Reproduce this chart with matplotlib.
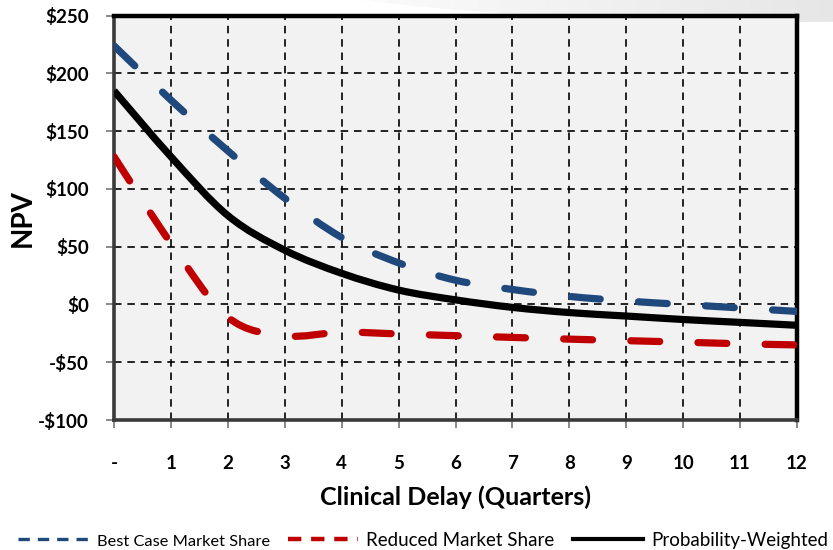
import numpy as np
import matplotlib
matplotlib.use("Agg")
import matplotlib.pyplot as plt
from matplotlib.path import Path
from matplotlib.patches import PathPatch, Ellipse
from matplotlib.lines import Line2D

# Quarterly clinical delay and NPV ($M) under three scenarios
delay = [0, 1, 2, 3, 4, 5, 6, 7, 8, 9, 10, 11, 12]
best_case = [224, 177, 133, 92, 58, 36, 21, 13, 7, 3, 0, -3, -6]
reduced = [128, 53, -11, -27, -24, -25.5, -27, -28.5, -30, -31.3, -32.6, -34, -35]
weighted = [185, 128, 77, 47, 27, 12.5, 4, -2.5, -7, -10, -13, -15.5, -18]

x_ticklabels = ["-"] + [str(v) for v in delay[1:]]
y_ticks = [-100, -50, 0, 50, 100, 150, 200, 250]
y_ticklabels = [f"-${-v}" if v < 0 else f"${v}" for v in y_ticks]

series_names = ["Best Case Market Share", "Reduced Market Share", "Probability-Weighted"]
BLUE = "#1F497D"
RED = "#C00000"
BLACK = "#000000"

FONT = "Lato"


def smooth_path(xs, ys):
    """Bezier path through the points with Catmull-Rom style tangents."""
    pts = np.column_stack([xs, ys]).astype(float)
    n = len(pts)
    verts = [pts[0]]
    codes = [Path.MOVETO]
    for i in range(n - 1):
        p_prev = pts[i - 1] if i > 0 else pts[i]
        p0 = pts[i]
        p1 = pts[i + 1]
        p_next = pts[i + 2] if i + 2 < n else pts[i + 1]
        c1 = p0 + (p1 - p_prev) / 6.0
        c2 = p1 - (p_next - p0) / 6.0
        verts += [c1, c2, p1]
        codes += [Path.CURVE4] * 3
    return Path(verts, codes)


fig = plt.figure(figsize=(8.33, 5.5), dpi=100)

# soft grey swoosh in the top-right corner of the page
bg = fig.add_axes([0, 0, 1, 1], zorder=-5)
bg.axis("off")
grad = np.tile(np.linspace(1.0, 0.90, 256), (16, 1))
im = bg.imshow(grad, cmap="gray", vmin=0, vmax=1, extent=[250, 833, 60, -5],
               aspect="auto", interpolation="bilinear")
bg.set_xlim(0, 833)
bg.set_ylim(550, 0)
swoosh = Ellipse((790, -40), 1120, 124, transform=bg.transData, facecolor="none", edgecolor="none")
bg.add_patch(swoosh)
im.set_clip_path(swoosh)

ax = fig.add_axes([114 / 833, 1 - 420 / 550, (797 - 114) / 833, (420 - 15.7) / 550])
ax.set_facecolor("#F2F2F2")
ax.set_xlim(0, 12)
ax.set_ylim(-100, 250)

ax.set_xticks(delay)
ax.set_xticklabels(x_ticklabels)
ax.set_yticks(y_ticks)
ax.set_yticklabels(y_ticklabels)

for lbl in ax.get_xticklabels() + ax.get_yticklabels():
    lbl.set_fontfamily(FONT)
    lbl.set_fontweight("bold")
    lbl.set_fontsize(13.5)

ax.tick_params(axis="x", direction="out", length=6, width=1.3, color="#808080", pad=19)
ax.tick_params(axis="y", direction="out", length=6, width=1.3, color="#808080", pad=12)

ax.grid(True, color="black", linewidth=1.2, linestyle=(0, (4.5, 3.5)), zorder=1)
ax.set_axisbelow(True)

for side in ["left", "bottom"]:
    ax.spines[side].set_color("#3a3a3a")
    ax.spines[side].set_linewidth(2.6)
for side in ["top", "right"]:
    ax.spines[side].set_color("black")
    ax.spines[side].set_linewidth(3.2)

styles = [
    (best_case, BLUE, (0, (4.0, 5.3))),
    (reduced, RED, (0, (4.0, 5.3))),
    (weighted, BLACK, "solid"),
]
for vals, color, ls in styles:
    patch = PathPatch(smooth_path(delay, vals), transform=ax.transData, fill=False,
                      edgecolor=color, linewidth=5.2, linestyle=ls, zorder=3)
    patch.set_capstyle("round" if ls != "solid" else "butt")
    patch.set_joinstyle("round")
    patch.set_clip_path(ax.patch)
    ax.add_patch(patch)

handles = [
    Line2D([], [], color=BLUE, linewidth=2.4, linestyle=(0, (3.4, 2.4))),
    Line2D([], [], color=RED, linewidth=3.2, linestyle=(0, (3.0, 2.2))),
    Line2D([], [], color=BLACK, linewidth=3.0),
]

ax.set_xlabel("Clinical Delay (Quarters)", fontfamily=FONT, fontweight="bold",
              fontsize=18, labelpad=10)
ax.set_ylabel("NPV", fontfamily=FONT, fontweight="bold", fontsize=20, labelpad=2)

leg = fig.legend(handles, series_names, loc="center", bbox_to_anchor=(0.508, 0.018),
                 ncol=3, frameon=False, handlelength=3.75, handletextpad=0.45,
                 columnspacing=0.95, borderaxespad=0, borderpad=0,
                 prop={"family": FONT, "size": 13.5})
texts = leg.get_texts()
texts[0].set_fontsize(11.8)

fig.savefig("out.png", dpi=100)
